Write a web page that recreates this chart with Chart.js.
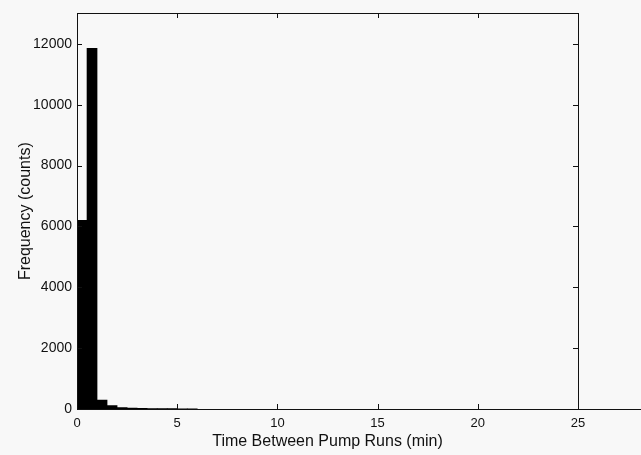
<!DOCTYPE html>
<html>
<head>
<meta charset="utf-8">
<script src="https://cdn.jsdelivr.net/npm/chart.js@4/dist/chart.umd.min.js"></script>
<style>
    html, body { margin: 0; padding: 0; background: #f8f8f8; }
    #wrap { width: 641px; height: 455px; }
</style>
</head>
<body>
<div id="wrap"><canvas id="hist"></canvas></div>
<script>
    // histogram bins (centres, minutes) and counts
    const binCentres = [0.25, 0.75, 1.25, 1.75, 2.25, 2.75, 3.25, 3.75, 4.25, 4.75, 5.25, 5.75];
    const counts = [6200, 11850, 290, 110, 50, 30, 25, 15, 12, 10, 8, 6];
    const xTicks = [0, 5, 10, 15, 20, 25];
    const yTicks = [0, 2000, 4000, 6000, 8000, 10000, 12000];

    // matlab-like box with inward ticks; bottom axis line runs on to the edge
    const boxPlugin = {
        id: 'box',
        afterDraw(chart) {
            const c = chart.ctx;
            const x = chart.scales.x, y = chart.scales.y;
            const left = Math.round(x.left), right = Math.round(x.right);
            const top = Math.round(y.top), bottom = Math.round(y.bottom);
            c.save();
            c.strokeStyle = '#111';
            c.lineWidth = 1;
            c.beginPath();
            c.moveTo(left + 0.5, top);
            c.lineTo(left + 0.5, bottom);
            c.moveTo(left, bottom + 0.5);
            c.lineTo(chart.width, bottom + 0.5);
            c.moveTo(left, top + 0.5);
            c.lineTo(right, top + 0.5);
            c.moveTo(right + 0.5, top);
            c.lineTo(right + 0.5, bottom);
            xTicks.forEach(v => {
                const px = Math.round(x.getPixelForValue(v)) + 0.5;
                c.moveTo(px, bottom); c.lineTo(px, bottom - 5);
                c.moveTo(px, top); c.lineTo(px, top + 5);
            });
            yTicks.forEach(v => {
                const py = Math.round(y.getPixelForValue(v)) + 0.5;
                c.moveTo(left, py); c.lineTo(left + 5, py);
                c.moveTo(right, py); c.lineTo(right - 5, py);
            });
            c.stroke();
            c.restore();
        }
    };

    const ctx = document.getElementById('hist').getContext('2d');
    new Chart(ctx, {
        type: 'bar',
        data: {
            datasets: [{
                data: binCentres.map((b, i) => ({ x: b, y: counts[i] })),
                backgroundColor: '#000',
                borderWidth: 0,
                barPercentage: 1,
                categoryPercentage: 1
            }]
        },
        options: {
            responsive: true,
            maintainAspectRatio: false,
            animation: false,
            layout: { padding: { top: 12, right: 63, left: 0, bottom: 0 } },
            plugins: {
                legend: { display: false },
                tooltip: { enabled: false }
            },
            scales: {
                x: {
                    type: 'linear',
                    offset: false,
                    min: 0,
                    max: 25,
                    border: { display: false },
                    grid: { display: false, drawTicks: false },
                    afterFit: s => { s.height = 46; s.paddingLeft = 0; s.paddingRight = 0; },
                    afterBuildTicks: s => { s.ticks = xTicks.map(v => ({ value: v })); },
                    ticks: {
                        padding: 7,
                        color: '#111',
                        font: { family: 'Liberation Sans', size: 13 },
                        callback: v => String(v)
                    },
                    title: {
                        display: true,
                        text: 'Time Between Pump Runs (min)',
                        color: '#111',
                        font: { family: 'Liberation Sans', size: 16 },
                        padding: { top: 0, bottom: 4 }
                    }
                },
                y: {
                    min: 0,
                    max: 13000,
                    border: { display: false },
                    grid: { display: false, drawTicks: false },
                    afterFit: s => { s.width = 77; },
                    afterBuildTicks: s => { s.ticks = yTicks.map(v => ({ value: v })); },
                    ticks: {
                        padding: 5,
                        color: '#111',
                        font: { family: 'Liberation Sans', size: 14 },
                        callback: v => String(v)
                    },
                    title: {
                        display: true,
                        text: 'Frequency (counts)',
                        color: '#111',
                        font: { family: 'Liberation Sans', size: 16 },
                        padding: { top: 16, bottom: 0 }
                    }
                }
            }
        },
        plugins: [boxPlugin]
    });
</script>
</body>
</html>
